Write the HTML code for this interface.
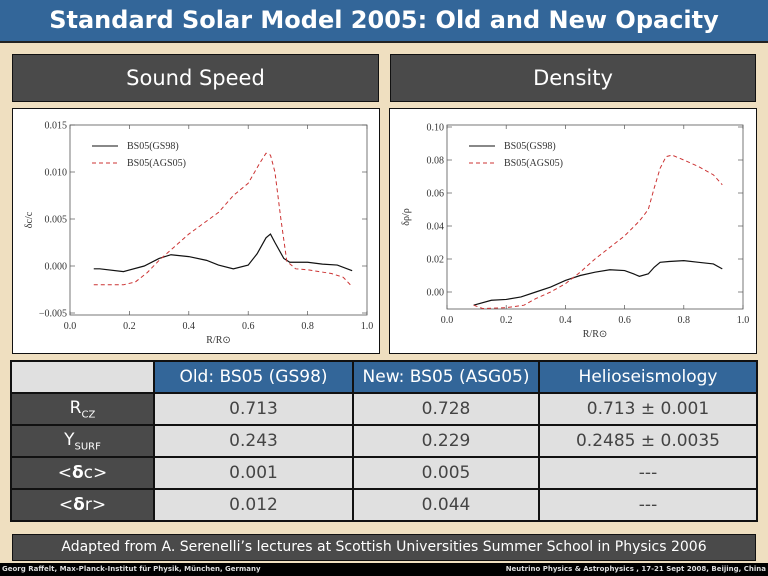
<!DOCTYPE html>
<html><head><meta charset="utf-8"><style>
*{margin:0;padding:0;box-sizing:border-box}
body{width:768px;height:576px;overflow:hidden;background:#efdfc0;font-family:"DejaVu Sans","Liberation Sans",sans-serif;position:relative}
.abs{position:absolute}
#title{left:0;top:0;width:768px;height:43px;background:#336699;border-bottom:2px solid #222;color:#fff;font-size:24px;font-weight:bold;text-align:center;line-height:41px}
.hdr{background:#4a4a4a;border:1px solid #111;color:#fff;font-size:21px;text-align:center;line-height:46px;height:48px;top:54px}
.panel{background:#fff;border:1px solid #111;top:108px;height:246px}
table{border-collapse:separate;border-spacing:2px;background:#111}
td{font-size:17px;text-align:center;height:30px;padding:0;color:#444}
td.h{background:#336699;color:#fff}
td.l{background:#4a4a4a;color:#fff}
td.v{background:#e0e0e0}
td.e{background:#e0e0e0}
#cap{left:12px;top:534px;width:744px;height:27px;background:#4a4a4a;border:1px solid #111;color:#fff;font-size:14px;text-align:center;line-height:25px}
#foot{left:0;top:563px;width:768px;height:13px;background:#000;color:#ddd;font-size:7px;font-weight:bold;line-height:13px}
</style></head><body>
<div id="title" class="abs">Standard Solar Model 2005: Old and New Opacity</div>
<div class="abs hdr" style="left:12px;width:367px">Sound Speed</div>
<div class="abs hdr" style="left:390px;width:366px">Density</div>
<div class="abs panel" style="left:12px;width:368px"></div>
<div class="abs panel" style="left:389px;width:368px"></div>
<svg class="abs" style="left:0;top:0" width="768" height="576" id="charts"></svg>

<table class="abs" style="left:10px;top:360px;width:748px">
<tr><td class="e" style="width:141px"></td><td class="h" style="width:197px">Old: BS05 (GS98)</td><td class="h" style="width:184px">New: BS05 (ASG05)</td><td class="h">Helioseismology</td></tr>
<tr><td class="l">R<sub style="font-size:10px">CZ</sub></td><td class="v">0.713</td><td class="v">0.728</td><td class="v">0.713 ± 0.001</td></tr>
<tr><td class="l">Y<sub style="font-size:10px">SURF</sub></td><td class="v">0.243</td><td class="v">0.229</td><td class="v">0.2485 ± 0.0035</td></tr>
<tr><td class="l">&lt;<b>δ</b>c&gt;</td><td class="v">0.001</td><td class="v">0.005</td><td class="v">---</td></tr>
<tr><td class="l">&lt;<b>δ</b>r&gt;</td><td class="v">0.012</td><td class="v">0.044</td><td class="v">---</td></tr>
</table>
<div id="cap" class="abs">Adapted from A. Serenelli’s lectures at Scottish Universities Summer School in Physics 2006</div>
<div id="foot" class="abs"><span style="position:absolute;left:2px">Georg Raffelt, Max-Planck-Institut für Physik, München, Germany</span><span style="position:absolute;right:2px">Neutrino Physics &amp; Astrophysics , 17-21 Sept 2008, Beijing, China</span></div>

<script>
// Sound speed data
const ssX1 = [0.08,0.1,0.18,0.25,0.3,0.34,0.4,0.46,0.5,0.55,0.6,0.63,0.66,0.675,0.69,0.72,0.74,0.8,0.85,0.9,0.95];
const ssGS98 = [-0.0003,-0.0003,-0.0006,0,0.0008,0.0012,0.001,0.0006,0.0001,-0.0003,0.0001,0.0013,0.003,0.0034,0.0025,0.0008,0.0004,0.0004,0.0002,0.0001,-0.0005];
const ssX2 = [0.08,0.18,0.22,0.26,0.3,0.35,0.4,0.5,0.55,0.6,0.64,0.66,0.675,0.69,0.71,0.73,0.76,0.8,0.88,0.92,0.95];
const ssAGS05 = [-0.002,-0.002,-0.0017,-0.0007,0.0006,0.002,0.0034,0.0057,0.0075,0.0088,0.011,0.012,0.0118,0.01,0.005,0.0005,-0.0003,-0.0004,-0.0008,-0.0012,-0.0022];
const ssYTicks = [0.015,0.010,0.005,0.000,-0.005];
const ssYLabels = ["0.015","0.010","0.005","0.000","\u22120.005"];
// Density data
const dX1 = [0.09,0.15,0.2,0.25,0.3,0.35,0.4,0.45,0.5,0.55,0.6,0.63,0.65,0.68,0.7,0.72,0.75,0.8,0.85,0.9,0.93];
const dGS98 = [-0.008,-0.005,-0.0045,-0.003,0,0.003,0.007,0.01,0.012,0.0135,0.013,0.011,0.0095,0.011,0.015,0.018,0.0185,0.019,0.018,0.017,0.014];
const dX2 = [0.09,0.12,0.2,0.26,0.3,0.35,0.4,0.45,0.5,0.55,0.6,0.65,0.68,0.7,0.72,0.74,0.76,0.8,0.85,0.9,0.93];
const dAGS05 = [-0.008,-0.01,-0.0095,-0.008,-0.004,0,0.005,0.012,0.02,0.027,0.034,0.043,0.05,0.063,0.075,0.082,0.083,0.08,0.076,0.071,0.065];
const dYTicks = [0.10,0.08,0.06,0.04,0.02,0.00];
const dYLabels = ["0.10","0.08","0.06","0.04","0.02","0.00"];
const xTicks = [0,0.2,0.4,0.6,0.8,1.0];
const xLabels = ["0.0","0.2","0.4","0.6","0.8","1.0"];

const svg = document.getElementById('charts');
const NS = 'http://www.w3.org/2000/svg';
function mk(tag, attrs){const e=document.createElementNS(NS,tag);for(const k in attrs)e.setAttribute(k,attrs[k]);svg.appendChild(e);return e;}
const FS = 10;
function chart(name, L, R, T, B, ymin, ymax, yT, yL, s1x, s1, s2x, s2, ylab, yFromTop0, yAtBottom){
  const sx = v => L + (R-L)*v;
  const sy = v => yFromTop0 + (yAtBottom - yFromTop0)*(ymax - v)/(ymax - ymin);
  const fr = mk('rect',{x:L,y:T,width:R-L,height:B-T,fill:'none',stroke:'#555','stroke-width':0.8});
  
  
  xTicks.forEach((t,i)=>{
    const x=sx(t);
    mk('line',{x1:x,y1:B,x2:x,y2:B-4,stroke:'#555','stroke-width':0.7});
    mk('line',{x1:x,y1:T,x2:x,y2:T+4,stroke:'#555','stroke-width':0.7});
    const tx=mk('text',{x:x,y:B+14,'font-size':FS,'font-family':'Liberation Serif, serif','text-anchor':'middle',fill:'#333'});
    tx.textContent=xLabels[i];
    
    
  });
  yT.forEach((t,i)=>{
    const y=sy(t);
    mk('line',{x1:L,y1:y,x2:L+5,y2:y,stroke:'#555','stroke-width':0.7});
    mk('line',{x1:R,y1:y,x2:R-5,y2:y,stroke:'#555','stroke-width':0.7});
    const tx=mk('text',{x:L-3,y:y+3.5,'font-size':FS,'font-family':'Liberation Serif, serif','text-anchor':'end',fill:'#333'});
    tx.textContent=yL[i];
    
    
  });
  const xt=mk('text',{x:(L+R)/2,y:B+28,'font-size':FS,'font-family':'Liberation Serif, serif','text-anchor':'middle',fill:'#333'});
  xt.textContent='R/R\u2299';
  
  
  const yt=mk('text',{x:0,y:0,'font-size':FS,'font-family':'Liberation Serif, serif','text-anchor':'middle',fill:'#333',transform:`translate(${L-38},${(T+B)/2}) rotate(-90)`});
  yt.textContent=ylab;
  
  
  const p1=mk('polyline',{points:s1x.map((x,i)=>sx(x)+','+sy(s1[i])).join(' '),fill:'none',stroke:'#111','stroke-width':1.2});
  
  
  const p2=mk('polyline',{points:s2x.map((x,i)=>sx(x)+','+sy(s2[i])).join(' '),fill:'none',stroke:'#c33','stroke-width':1,'stroke-dasharray':'4,3'});
  
  
  mk('line',{x1:L+22,y1:T+21,x2:L+48,y2:T+21,stroke:'#111','stroke-width':1});
  mk('line',{x1:L+22,y1:T+38,x2:L+48,y2:T+38,stroke:'#c33','stroke-width':1,'stroke-dasharray':'4,3'});
  const l1=mk('text',{x:L+57,y:T+24,'font-size':FS,'font-family':'Liberation Serif, serif',fill:'#333'});
  l1.textContent='BS05(GS98)';
  
  
  const l2=mk('text',{x:L+57,y:T+41,'font-size':FS,'font-family':'Liberation Serif, serif',fill:'#333'});
  l2.textContent='BS05(AGS05)';
  
  
}
chart('sound-speed', 70, 367, 125, 315, -0.005, 0.015, ssYTicks, ssYLabels, ssX1, ssGS98, ssX2, ssAGS05, '\u03b4c/c', 125, 313);
chart('density', 447, 743, 125, 309, 0.0, 0.10, dYTicks, dYLabels, dX1, dGS98, dX2, dAGS05, '\u03b4\u03c1/\u03c1', 127, 292);
</script>
</body></html>
